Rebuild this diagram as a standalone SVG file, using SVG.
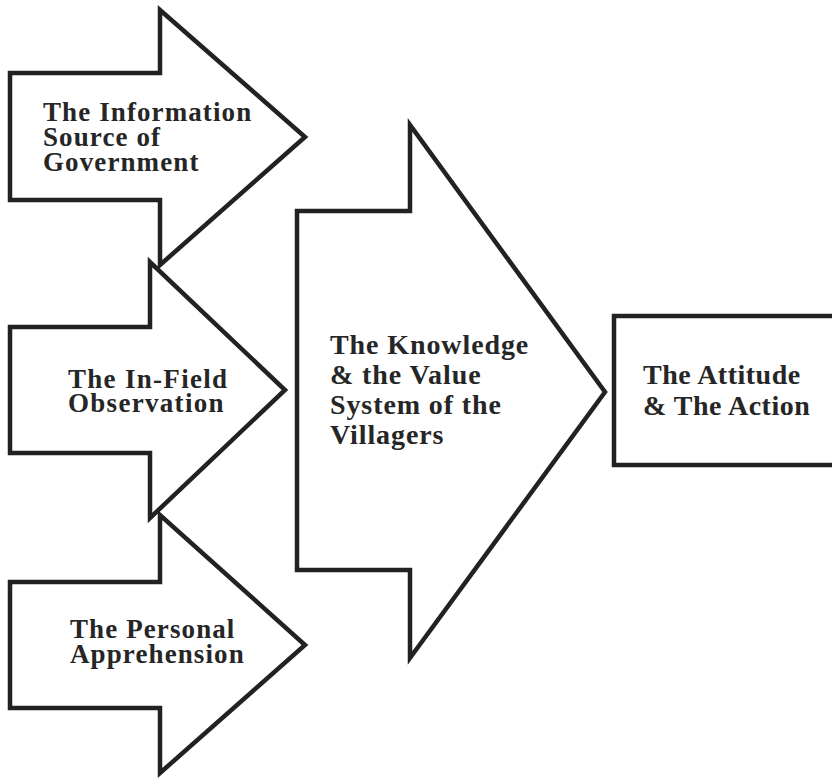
<svg xmlns="http://www.w3.org/2000/svg" width="832" height="779" viewBox="0 0 832 779">
  <style>
    .shape { fill: #ffffff; stroke: #222222; stroke-width: 4.5; stroke-linejoin: miter; }
    .lbl { font-family: "Liberation Serif", "Times New Roman", serif; font-weight: bold; fill: #262626; font-size: 27px; letter-spacing: 1.1px; }
    .big { font-size: 28px; letter-spacing: 0.9px; }
    .box { font-size: 28px; letter-spacing: 0.5px; }
  </style>
  <rect x="0" y="0" width="832" height="779" fill="#ffffff"/>
  <g id="connectors"/>
  <g id="node-government">
    <path class="shape" d="M10,73 H160 V10 L305,137 L160,265 V200 H10 Z"/>
    <text class="lbl" x="43" y="121">The Information</text>
    <text class="lbl" x="43" y="146">Source of</text>
    <text class="lbl" x="43" y="171">Government</text>
  </g>
  <g id="node-infield">
    <path class="shape" d="M10,327 H150 V262 L285,390 L150,518 V453 H10 Z"/>
    <text class="lbl" x="68" y="388" style="letter-spacing:1.3px">The In-Field</text>
    <text class="lbl" x="68" y="412" style="letter-spacing:1.3px">Observation</text>
  </g>
  <g id="node-personal">
    <path class="shape" d="M10,582 H160 V515 L305,645 L160,773 V708 H10 Z"/>
    <text class="lbl" x="70" y="638">The Personal</text>
    <text class="lbl" x="70" y="663">Apprehension</text>
  </g>
  <g id="node-knowledge">
    <path class="shape" d="M297,211 H410 V125 L605,392 L410,658 V570 H297 Z"/>
    <text class="lbl big" x="330" y="354">The Knowledge</text>
    <text class="lbl big" x="330" y="384">&amp; the Value</text>
    <text class="lbl big" x="330" y="414">System of the</text>
    <text class="lbl big" x="330" y="444">Villagers</text>
  </g>
  <g id="node-attitude">
    <rect class="shape" x="614" y="316" width="240" height="149"/>
    <text class="lbl box" x="643" y="384">The Attitude</text>
    <text class="lbl box" x="643" y="415">&amp; The Action</text>
  </g>
</svg>
